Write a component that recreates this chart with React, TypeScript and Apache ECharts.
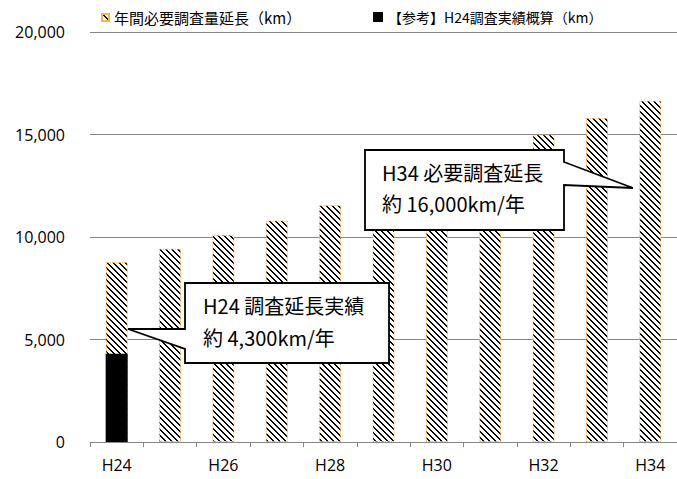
import React, { useEffect, useRef } from 'react';
import * as echarts from 'echarts';

const categories = ['H24', 'H25', 'H26', 'H27', 'H28', 'H29', 'H30', 'H31', 'H32', 'H33', 'H34'];
const requiredLength = [8770, 9430, 10100, 10800, 11550, 12300, 13100, 14000, 15000, 15800, 16650];
const actualLength: (number | null)[] = [4300, null, null, null, null, null, null, null, null, null, null];
const seriesNames = ['年間必要調査量延長（km）', '【参考】H24調査実績概算（km）'];
const yMin = 0;
const yMax = 20000;
const yInterval = 5000;
const calloutH24 = ['H24 調査延長実績', '約 4,300km/年'];
const calloutH34 = ['H34 必要調査延長', '約 16,000km/年'];

const CJK = '"Noto Sans CJK JP", "Noto Sans", sans-serif';
const LATIN = '"Open Sans", "Noto Sans", sans-serif';

export default function App() {
  const ref = useRef<HTMLDivElement>(null);
  useEffect(() => {
    const el = ref.current!;
    const chart = echarts.init(el, null, { renderer: 'svg' });

    const P = 6;
    const cv = document.createElement('canvas');
    cv.width = P;
    cv.height = P;
    const ctx = cv.getContext('2d')!;
    ctx.fillStyle = '#ffffff';
    ctx.fillRect(0, 0, P, P);
    ctx.fillStyle = '#000000';
    for (let y = 0; y < P; y++) {
      for (let k = 0; k < 2; k++) ctx.fillRect((y + k) % P, y, 1, 1);
    }
    const hatch: any = { image: cv.toDataURL(), repeat: 'repeat', imageWidth: P, imageHeight: P };

    const calloutText = (lines: string[], x: number, y0: number, dy: number) =>
      lines.map((t, i) => ({
        type: 'text',
        z: 101,
        x,
        y: y0 + i * dy,
        style: {
          text: t,
          font: `20px ${CJK}`,
          fill: '#000',
          align: 'left',
          verticalAlign: 'middle',
        },
      }));

    chart.setOption({
      animation: false,
      backgroundColor: '#fff',
      grid: { left: 90, right: -3, top: 32, bottom: 37 },
      legend: [
        {
          left: 96,
          top: 5,
          data: [seriesNames[0]],
          icon: 'rect',
          itemWidth: 7,
          itemHeight: 7,
          itemGap: 6,
          textStyle: { fontSize: 15, fontFamily: CJK, color: '#000' },
        },
        {
          left: 368,
          top: 5,
          data: [seriesNames[1]],
          icon: 'rect',
          itemWidth: 10,
          itemHeight: 10,
          textStyle: { fontSize: 14, fontFamily: CJK, color: '#000' },
        },
      ],
      xAxis: {
        type: 'category',
        data: categories,
        axisLine: { lineStyle: { color: '#868686', width: 1 } },
        axisTick: { show: true, interval: 0, length: 5, lineStyle: { color: '#868686' } },
        axisLabel: { interval: 1, margin: 15, fontSize: 16, fontFamily: LATIN, color: '#000' },
      },
      yAxis: {
        type: 'value',
        min: yMin,
        max: yMax,
        interval: yInterval,
        axisLine: { show: false },
        axisTick: { show: false },
        splitLine: { lineStyle: { color: '#868686', width: 1 } },
        axisLabel: {
          margin: 25,
          fontSize: 16,
          fontFamily: LATIN,
          color: '#000',
          formatter: (v: number) => v.toLocaleString('en-US'),
        },
      },
      series: [
        {
          name: seriesNames[0],
          type: 'bar',
          data: requiredLength,
          barWidth: 22,
          itemStyle: { color: hatch, borderColor: '#F5B942', borderWidth: 1, borderType: 'dotted' },
          z: 2,
        },
        {
          name: seriesNames[1],
          type: 'bar',
          data: actualLength,
          barWidth: 22,
          barGap: '-100%',
          itemStyle: { color: '#000' },
          z: 3,
        },
      ],
      graphic: [
        {
          type: 'polygon',
          z: 100,
          shape: {
            points: [
              [185, 283], [389, 283], [389, 363], [185, 363], [185, 349], [128, 329], [185, 329],
            ],
          },
          style: { fill: '#fff', stroke: '#000', lineWidth: 1.8, lineJoin: 'miter' },
        },
        ...calloutText(calloutH24, 203, 305, 32),
        {
          type: 'polygon',
          z: 100,
          shape: {
            points: [
              [365, 150], [564, 150], [564, 162], [633, 188], [564, 185], [564, 230], [365, 230],
            ],
          },
          style: { fill: '#fff', stroke: '#000', lineWidth: 1.8, lineJoin: 'miter' },
        },
        ...calloutText(calloutH34, 382, 172, 31),
      ],
    });
    return () => chart.dispose();
  }, []);
  return <div ref={ref} style={{ position: 'absolute', left: 0, top: 0, width: 677, height: 479 }} />;
}
